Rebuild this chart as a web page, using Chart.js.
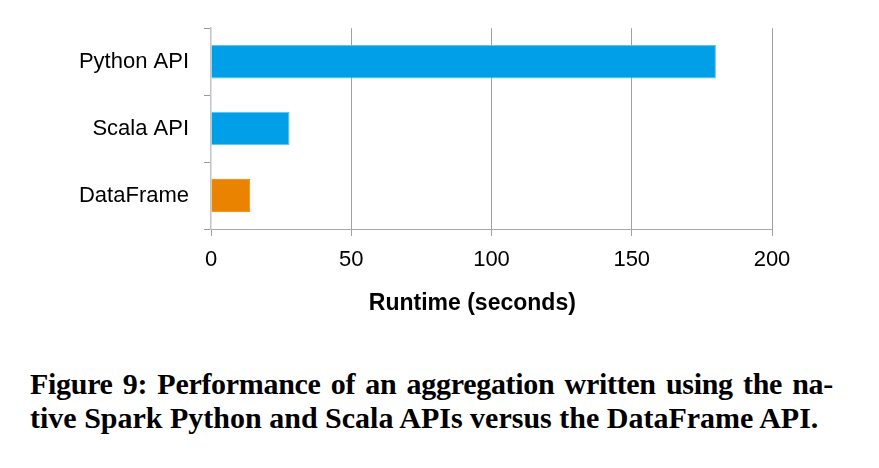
<!DOCTYPE html>
<html>
<head>
<meta charset="utf-8">
<script src="https://cdn.jsdelivr.net/npm/chart.js@4.4.1/dist/chart.umd.min.js"></script>
<style>
  body { margin: 0; background: #fff; }
  #wrap { position: relative; width: 879px; height: 468px; }
  #chartBox { position: absolute; left: 0; top: 0; width: 879px; height: 330px; }
  .caption {
    position: absolute; left: 30px; width: 803px;
    font-family: "Liberation Serif", "Times New Roman", serif;
    font-weight: bold; font-size: 30px; line-height: 34px;
    color: #000; white-space: nowrap;
  }
  #cap1 { top: 367px; text-align: justify; text-align-last: justify; letter-spacing: -0.3px; }
  #cap2 { top: 401px; }
</style>
</head>
<body>
<div id="wrap">
  <div id="chartBox"><canvas id="runtimeChart"></canvas></div>
  <div class="caption" id="cap1">Figure 9: Performance of an aggregation written using the na-</div>
  <div class="caption" id="cap2">tive Spark Python and Scala APIs versus the DataFrame API.</div>
</div>
<script>
// datos
const categorias = ["Python API", "Scala API", "DataFrame"];
const runtimes = [180, 28, 14];
const xTicks = [0, 50, 100, 150, 200];
const xTitle = "Runtime (seconds)";

const barColors = ["#009fe8", "#009fe8", "#e98300"];
const barBorders = ["#5ac3f2", "#5ac3f2", "#e98300"];

const ctx = document.getElementById("runtimeChart").getContext("2d");
new Chart(ctx, {
    type: "bar",
    data: {
        labels: categorias,
        datasets: [
            {
                label: xTitle,
                data: runtimes,
                backgroundColor: barColors,
                borderColor: barBorders,
                borderWidth: 1,
                categoryPercentage: 1,
                barPercentage: 0.5,
            },
        ],
    },
    options: {
        indexAxis: "y",
        responsive: true,
        maintainAspectRatio: false,
        animation: false,
        layout: { padding: { top: 28, right: 107, left: 0, bottom: 0 } },
        plugins: {
            legend: { display: false },
            tooltip: { enabled: false },
        },
        scales: {
            x: {
                min: xTicks[0],
                max: xTicks[xTicks.length - 1],
                afterBuildTicks: (scale) => {
                    scale.ticks = xTicks.map((v) => ({ value: v }));
                },
                afterFit: (scale) => {
                    scale.height = 101;
                },
                grid: {
                    color: (c) => (c.index === 0 ? "rgba(0,0,0,0)" : "#a0a0a0"),
                    tickColor: "#a0a0a0",
                    tickLength: 7,
                    lineWidth: 1,
                },
                border: { color: "#a8a8a8", width: 1 },
                ticks: {
                    padding: 11,
                    color: "#000",
                    font: { family: "Arial, 'Liberation Sans'", size: 22 },
                },
                title: {
                    display: true,
                    // espacios al final para correr el titulo a la izquierda como en la figura
                    text: xTitle + "\u00a0\u00a0\u00a0\u00a0\u00a0\u00a0",
                    color: "#000",
                    padding: { top: 0, bottom: 13 },
                    font: { family: "Arial, 'Liberation Sans'", size: 23, weight: "bold" },
                },
            },
            y: {
                afterFit: (scale) => {
                    scale.width = 211;
                },
                grid: {
                    drawOnChartArea: false,
                    tickColor: "#9a9a9a",
                    tickLength: 7,
                },
                border: { color: "#c4c4c4", width: 1.5 },
                ticks: {
                    padding: 15,
                    color: "#000",
                    font: { family: "Arial, 'Liberation Sans'", size: 22 },
                },
            },
        },
    },
});
</script>
</body>
</html>
